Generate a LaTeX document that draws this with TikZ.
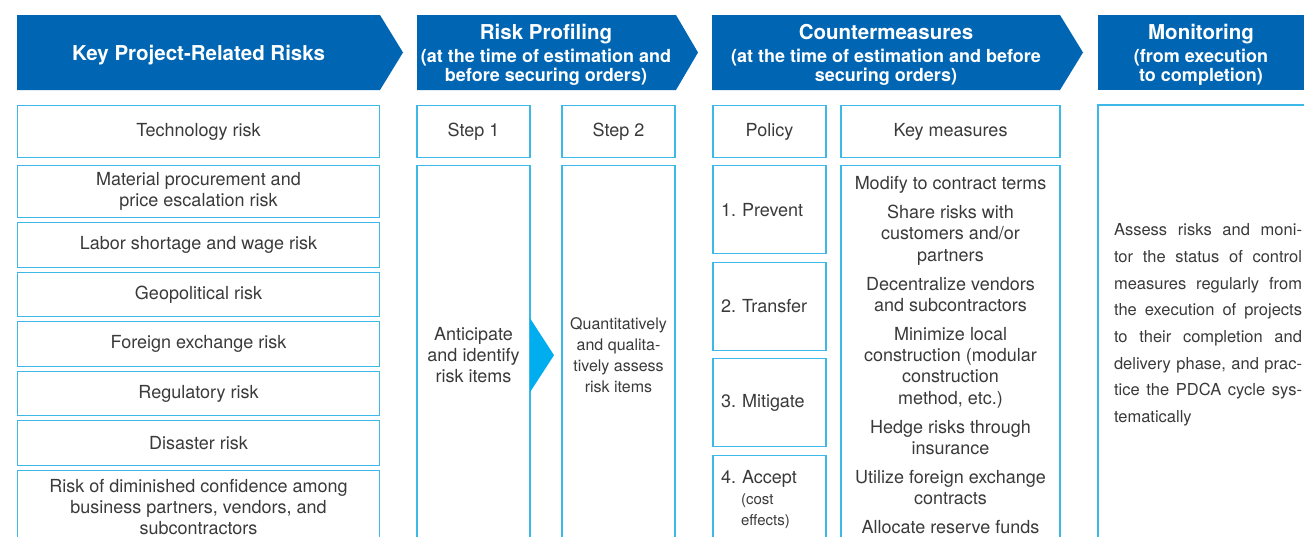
\documentclass[tikz,border=0pt]{standalone}
\usepackage{fontspec}
\setmainfont{TeX Gyre Heros}
\usetikzlibrary{positioning,calc}

\definecolor{hdrblue}{HTML}{0066B3}
\definecolor{cellblue}{HTML}{3CB9E9}
\definecolor{arrowcyan}{HTML}{00AEEF}
\definecolor{txtgray}{HTML}{3A3A3A}

\newcommand{\costfont}{\fontsize{15}{21}\selectfont}
\frenchspacing
\hbadness=10000

\begin{document}
\begin{tikzpicture}[x=1pt, y=-1pt,
    hdr/.style={fill=hdrblue},
    hdrtitle/.style={text=white, inner sep=0pt, anchor=base, font=\fontsize{20.5}{22}\selectfont\bfseries},
    hdrsub/.style={text=white, inner sep=0pt, anchor=base, font=\fontsize{18}{20}\selectfont\bfseries},
    cell/.style={draw=cellblue, line width=1.2pt, text=txtgray, inner sep=0pt, outer sep=0pt,
      align=center, font=\fontsize{18}{21}\selectfont},
    risk/.style={cell, minimum width=362pt, minimum height=44.5pt},
    stepcell/.style={cell, minimum width=113pt},
    policy/.style={cell, minimum width=113pt, minimum height=88pt, text width=97pt, align=left}
  ]
    \useasboundingbox (0,0) rectangle (1304,536);
    \clip (0,0) rectangle (1304,536);

    % header arrows
    \fill[hdr] (17,15) -- (380,15) -- (403,52.5) -- (380,90) -- (17,90) -- cycle;
    \fill[hdr] (417,15) -- (676,15) -- (698,52.5) -- (676,90) -- (417,90) -- cycle;
    \fill[hdr] (712,15) -- (1060,15) -- (1083,52.5) -- (1060,90) -- (712,90) -- cycle;
    \fill[hdr] (1098,15) rectangle (1320,90);

    \node[hdrtitle] (h1) at (198.5,60) {Key Project-Related Risks};
    \node[hdrtitle] (h2) at (546,39.5) {Risk Profiling};
    \node[hdrsub] (h2a) at (546,62) {(at the time of estimation and};
    \node[hdrsub] (h2b) at (546,81) {before securing orders)};
    \node[hdrtitle] (h3) at (886,39.5) {Countermeasures};
    \node[hdrsub] (h3a) at (886,62) {(at the time of estimation and before};
    \node[hdrsub] (h3b) at (886,81) {securing orders)};
    \node[hdrtitle] (h4) at (1201,39.5) {Monitoring};
    \node[hdrsub] (h4a) at (1201,62) {(from execution};
    \node[hdrsub] (h4b) at (1201,81) {to completion)};

    % key risks
    \node[risk, minimum height=52pt] (r1) at (198.5,131.7) {Technology risk};
    \node[risk, minimum height=52pt, below=8pt of r1] (r2) {Material procurement and\\price escalation risk};
    \node[risk, below=5pt of r2] (r3) {Labor shortage and wage risk};
    \node[risk, below=5pt of r3] (r4) {Geopolitical risk};
    \node[risk, below=5pt of r4] (r5) {Foreign exchange risk};
    \node[risk, below=5pt of r5] (r6) {Regulatory risk};
    \node[risk, below=5pt of r6] (r7) {Disaster risk};
    \node[risk, minimum height=74pt, below=5pt of r7] (r8)
      {Risk of diminished confidence among\\business partners, vendors, and\\subcontractors};

    % risk profiling
    \node[stepcell, minimum height=52pt] (s1) at (473.5,131.7) {Step 1};
    \node[stepcell, minimum height=52pt] (s2) at (618.5,131.7) {Step 2};
    \node[stepcell, minimum height=379pt, below=8pt of s1] (s1b) {Anticipate\\and identify\\risk items};
    \node[stepcell, minimum height=379pt, below=8pt of s2, font=\fontsize{16}{21}\selectfont] (s2b)
      {Quantitatively\\and qualita-\\tively assess\\risk items};
    \fill[arrowcyan] ($(s1b.east)+(0,-37)$) -- ($(s1b.east)+(24,0)$) -- ($(s1b.east)+(0,37)$) -- cycle;

    % countermeasures
    \node[stepcell, minimum height=52pt] (pol) at (769.5,131.7) {Policy};
    \node[cell, minimum width=219pt, minimum height=52pt] (km) at (950.5,131.7) {Key measures};
    \node[policy, below=8pt of pol] (p1) {1. Prevent};
    \node[policy, below=8.5pt of p1] (p2) {2. Transfer};
    \node[policy, below=8.5pt of p2] (p3) {3. Mitigate};
    \node[policy, minimum height=89pt, below=8.5pt of p3] (p4)
      {4. Accept\\\hspace*{20pt}{\costfont(cost}\\\hspace*{20pt}{\costfont effects)}};
    \node[cell, minimum width=219pt, minimum height=379pt, below=8pt of km,
      font=\fontsize{18}{21.3}\selectfont] (kmb) {%
      Modify to contract terms\\[7.7pt]
      Share risks with\\customers and/or\\partners\\[7.7pt]
      Decentralize vendors\\and subcontractors\\[7.7pt]
      Minimize local\\construction (modular\\construction\\method, etc.)\\[7.7pt]
      Hedge risks through\\insurance\\[7.7pt]
      Utilize foreign exchange\\contracts\\[7.7pt]
      Allocate reserve funds};

    % monitoring
    \node[cell, minimum width=220pt, minimum height=440pt, text width=188pt, align=justify,
      font=\fontsize{16.5}{26.7}\selectfont] (mon) at (1208,325) {%
      Assess risks and moni-\linebreak tor the status of control\linebreak
      measures regularly from\linebreak the execution of projects\linebreak
      to their completion and\linebreak delivery phase, and prac-\linebreak
      tice the PDCA cycle sys-\linebreak tematically};
\end{tikzpicture}
\end{document}
